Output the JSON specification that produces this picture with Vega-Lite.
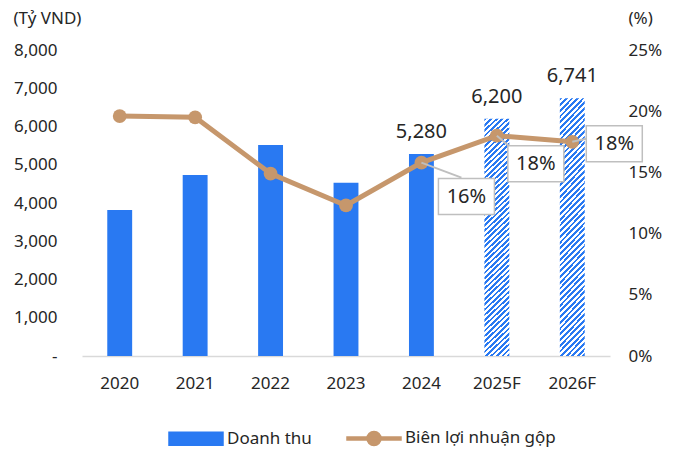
{
  "$schema": "https://vega.github.io/schema/vega-lite/v6.json",
  "width": 528,
  "height": 306,
  "autosize": {"type": "none"},
  "padding": {"left": 82, "top": 50, "right": 68, "bottom": 94},
  "background": "white",
  "data": {
    "values": [
      {"year": "2020", "revenue": 3820, "margin": 0.196, "forecast": false},
      {"year": "2021", "revenue": 4730, "margin": 0.195, "forecast": false},
      {"year": "2022", "revenue": 5515, "margin": 0.149, "forecast": false},
      {"year": "2023", "revenue": 4530, "margin": 0.123, "forecast": false},
      {"year": "2024", "revenue": 5280, "margin": 0.158, "forecast": false},
      {"year": "2025F", "revenue": 6200, "margin": 0.180, "forecast": true},
      {"year": "2026F", "revenue": 6741, "margin": 0.175, "forecast": true}
    ]
  },
  "config": {
    "view": {"stroke": null},
    "font": "Noto Sans",
    "axis": {
      "grid": false,
      "ticks": false,
      "labelFont": "Noto Sans",
      "labelFontSize": 17,
      "labelColor": "#262626",
      "titleFont": "Noto Sans",
      "titleFontSize": 17,
      "titleFontWeight": "normal",
      "titleColor": "#262626"
    }
  },
  "encoding": {
    "x": {
      "field": "year",
      "type": "ordinal",
      "sort": null,
      "scale": {"paddingInner": 0.67, "paddingOuter": 0.335},
      "axis": {"title": null, "labelAngle": 0, "domainColor": "#D9D9D9", "domainWidth": 1.5, "labelPadding": 19}
    }
  },
  "layer": [
    {
      "encoding": {
        "y": {
          "field": "revenue",
          "type": "quantitative",
          "scale": {"domain": [0, 8000], "nice": false},
          "axis": {
            "orient": "left",
            "domain": false,
            "values": [0, 1000, 2000, 3000, 4000, 5000, 6000, 7000, 8000],
            "format": ",.0f",
            "labelExpr": "datum.value === 0 ? '-\u00a0\u00a0' : datum.label",
            "labelPadding": 25,
            "title": "(Tỷ VND)",
            "titleAngle": 0,
            "titleAlign": "left",
            "titleBaseline": "alphabetic",
            "titleX": -69,
            "titleY": -27
          }
        }
      },
      "layer": [
        {
          "transform": [{"filter": "!datum.forecast"}],
          "mark": {"type": "bar"},
          "encoding": {
            "color": {
              "datum": "Doanh thu",
              "scale": {"domain": ["Doanh thu", "Biên lợi nhuận gộp"], "range": ["#2979F2", "#C6976C"]},
              "legend": {
                "title": null,
                "orient": "none",
                "legendX": 86,
                "legendY": 360,
                "direction": "horizontal",
                "labelFont": "Noto Sans",
                "labelFontSize": 17,
                "labelColor": "#262626",
                "symbolSize": 2916,
                "labelOffset": 3,
                "columnPadding": 32,
                "encode": {
                  "symbols": {
                    "update": {
                      "shape": {"signal": "datum.value === 'Doanh thu' ? 'M-1,-0.24H1V0.24H-1Z' : 'M-1,-0.056H1V0.056H-1Z M0.26,0A0.26,0.26 0 1 1 -0.26,0A0.26,0.26 0 1 1 0.26,0Z'"},
                      "fill": {"signal": "datum.value === 'Doanh thu' ? '#2979F2' : '#C6976C'"},
                      "stroke": {"value": "transparent"},
                      "opacity": {"value": 1}
                    }
                  }
                }
              }
            }
          }
        },
        {
          "transform": [{"filter": "datum.forecast"}],
          "mark": {
            "type": "bar",
            "fill": {
              "gradient": "linear", "x1": 0, "y1": 0, "x2": 0.11, "y2": 1.1,
              "stops": [
                {"offset":0,"color":"#2979F2"},{"offset":0.01,"color":"#2979F2"},{"offset":0.01,"color":"#fff"},{"offset":0.02,"color":"#fff"},
                {"offset":0.02,"color":"#2979F2"},{"offset":0.03,"color":"#2979F2"},{"offset":0.03,"color":"#fff"},{"offset":0.04,"color":"#fff"},
                {"offset":0.04,"color":"#2979F2"},{"offset":0.05,"color":"#2979F2"},{"offset":0.05,"color":"#fff"},{"offset":0.06,"color":"#fff"},
                {"offset":0.06,"color":"#2979F2"},{"offset":0.07,"color":"#2979F2"},{"offset":0.07,"color":"#fff"},{"offset":0.08,"color":"#fff"},
                {"offset":0.08,"color":"#2979F2"},{"offset":0.09,"color":"#2979F2"},{"offset":0.09,"color":"#fff"},{"offset":0.10,"color":"#fff"},
                {"offset":0.10,"color":"#2979F2"},{"offset":0.11,"color":"#2979F2"},{"offset":0.11,"color":"#fff"},{"offset":0.12,"color":"#fff"},
                {"offset":0.12,"color":"#2979F2"},{"offset":0.13,"color":"#2979F2"},{"offset":0.13,"color":"#fff"},{"offset":0.14,"color":"#fff"},
                {"offset":0.14,"color":"#2979F2"},{"offset":0.15,"color":"#2979F2"},{"offset":0.15,"color":"#fff"},{"offset":0.16,"color":"#fff"},
                {"offset":0.16,"color":"#2979F2"},{"offset":0.17,"color":"#2979F2"},{"offset":0.17,"color":"#fff"},{"offset":0.18,"color":"#fff"},
                {"offset":0.18,"color":"#2979F2"},{"offset":0.19,"color":"#2979F2"},{"offset":0.19,"color":"#fff"},{"offset":0.20,"color":"#fff"},
                {"offset":0.20,"color":"#2979F2"},{"offset":0.21,"color":"#2979F2"},{"offset":0.21,"color":"#fff"},{"offset":0.22,"color":"#fff"},
                {"offset":0.22,"color":"#2979F2"},{"offset":0.23,"color":"#2979F2"},{"offset":0.23,"color":"#fff"},{"offset":0.24,"color":"#fff"},
                {"offset":0.24,"color":"#2979F2"},{"offset":0.25,"color":"#2979F2"},{"offset":0.25,"color":"#fff"},{"offset":0.26,"color":"#fff"},
                {"offset":0.26,"color":"#2979F2"},{"offset":0.27,"color":"#2979F2"},{"offset":0.27,"color":"#fff"},{"offset":0.28,"color":"#fff"},
                {"offset":0.28,"color":"#2979F2"},{"offset":0.29,"color":"#2979F2"},{"offset":0.29,"color":"#fff"},{"offset":0.30,"color":"#fff"},
                {"offset":0.30,"color":"#2979F2"},{"offset":0.31,"color":"#2979F2"},{"offset":0.31,"color":"#fff"},{"offset":0.32,"color":"#fff"},
                {"offset":0.32,"color":"#2979F2"},{"offset":0.33,"color":"#2979F2"},{"offset":0.33,"color":"#fff"},{"offset":0.34,"color":"#fff"},
                {"offset":0.34,"color":"#2979F2"},{"offset":0.35,"color":"#2979F2"},{"offset":0.35,"color":"#fff"},{"offset":0.36,"color":"#fff"},
                {"offset":0.36,"color":"#2979F2"},{"offset":0.37,"color":"#2979F2"},{"offset":0.37,"color":"#fff"},{"offset":0.38,"color":"#fff"},
                {"offset":0.38,"color":"#2979F2"},{"offset":0.39,"color":"#2979F2"},{"offset":0.39,"color":"#fff"},{"offset":0.40,"color":"#fff"},
                {"offset":0.40,"color":"#2979F2"},{"offset":0.41,"color":"#2979F2"},{"offset":0.41,"color":"#fff"},{"offset":0.42,"color":"#fff"},
                {"offset":0.42,"color":"#2979F2"},{"offset":0.43,"color":"#2979F2"},{"offset":0.43,"color":"#fff"},{"offset":0.44,"color":"#fff"},
                {"offset":0.44,"color":"#2979F2"},{"offset":0.45,"color":"#2979F2"},{"offset":0.45,"color":"#fff"},{"offset":0.46,"color":"#fff"},
                {"offset":0.46,"color":"#2979F2"},{"offset":0.47,"color":"#2979F2"},{"offset":0.47,"color":"#fff"},{"offset":0.48,"color":"#fff"},
                {"offset":0.48,"color":"#2979F2"},{"offset":0.49,"color":"#2979F2"},{"offset":0.49,"color":"#fff"},{"offset":0.50,"color":"#fff"},
                {"offset":0.50,"color":"#2979F2"},{"offset":0.51,"color":"#2979F2"},{"offset":0.51,"color":"#fff"},{"offset":0.52,"color":"#fff"},
                {"offset":0.52,"color":"#2979F2"},{"offset":0.53,"color":"#2979F2"},{"offset":0.53,"color":"#fff"},{"offset":0.54,"color":"#fff"},
                {"offset":0.54,"color":"#2979F2"},{"offset":0.55,"color":"#2979F2"},{"offset":0.55,"color":"#fff"},{"offset":0.56,"color":"#fff"},
                {"offset":0.56,"color":"#2979F2"},{"offset":0.57,"color":"#2979F2"},{"offset":0.57,"color":"#fff"},{"offset":0.58,"color":"#fff"},
                {"offset":0.58,"color":"#2979F2"},{"offset":0.59,"color":"#2979F2"},{"offset":0.59,"color":"#fff"},{"offset":0.60,"color":"#fff"},
                {"offset":0.60,"color":"#2979F2"},{"offset":0.61,"color":"#2979F2"},{"offset":0.61,"color":"#fff"},{"offset":0.62,"color":"#fff"},
                {"offset":0.62,"color":"#2979F2"},{"offset":0.63,"color":"#2979F2"},{"offset":0.63,"color":"#fff"},{"offset":0.64,"color":"#fff"},
                {"offset":0.64,"color":"#2979F2"},{"offset":0.65,"color":"#2979F2"},{"offset":0.65,"color":"#fff"},{"offset":0.66,"color":"#fff"},
                {"offset":0.66,"color":"#2979F2"},{"offset":0.67,"color":"#2979F2"},{"offset":0.67,"color":"#fff"},{"offset":0.68,"color":"#fff"},
                {"offset":0.68,"color":"#2979F2"},{"offset":0.69,"color":"#2979F2"},{"offset":0.69,"color":"#fff"},{"offset":0.70,"color":"#fff"},
                {"offset":0.70,"color":"#2979F2"},{"offset":0.71,"color":"#2979F2"},{"offset":0.71,"color":"#fff"},{"offset":0.72,"color":"#fff"},
                {"offset":0.72,"color":"#2979F2"},{"offset":0.73,"color":"#2979F2"},{"offset":0.73,"color":"#fff"},{"offset":0.74,"color":"#fff"},
                {"offset":0.74,"color":"#2979F2"},{"offset":0.75,"color":"#2979F2"},{"offset":0.75,"color":"#fff"},{"offset":0.76,"color":"#fff"},
                {"offset":0.76,"color":"#2979F2"},{"offset":0.77,"color":"#2979F2"},{"offset":0.77,"color":"#fff"},{"offset":0.78,"color":"#fff"},
                {"offset":0.78,"color":"#2979F2"},{"offset":0.79,"color":"#2979F2"},{"offset":0.79,"color":"#fff"},{"offset":0.80,"color":"#fff"},
                {"offset":0.80,"color":"#2979F2"},{"offset":0.81,"color":"#2979F2"},{"offset":0.81,"color":"#fff"},{"offset":0.82,"color":"#fff"},
                {"offset":0.82,"color":"#2979F2"},{"offset":0.83,"color":"#2979F2"},{"offset":0.83,"color":"#fff"},{"offset":0.84,"color":"#fff"},
                {"offset":0.84,"color":"#2979F2"},{"offset":0.85,"color":"#2979F2"},{"offset":0.85,"color":"#fff"},{"offset":0.86,"color":"#fff"},
                {"offset":0.86,"color":"#2979F2"},{"offset":0.87,"color":"#2979F2"},{"offset":0.87,"color":"#fff"},{"offset":0.88,"color":"#fff"},
                {"offset":0.88,"color":"#2979F2"},{"offset":0.89,"color":"#2979F2"},{"offset":0.89,"color":"#fff"},{"offset":0.90,"color":"#fff"},
                {"offset":0.90,"color":"#2979F2"},{"offset":0.91,"color":"#2979F2"},{"offset":0.91,"color":"#fff"},{"offset":0.92,"color":"#fff"},
                {"offset":0.92,"color":"#2979F2"},{"offset":0.93,"color":"#2979F2"},{"offset":0.93,"color":"#fff"},{"offset":0.94,"color":"#fff"},
                {"offset":0.94,"color":"#2979F2"},{"offset":0.95,"color":"#2979F2"},{"offset":0.95,"color":"#fff"},{"offset":0.96,"color":"#fff"},
                {"offset":0.96,"color":"#2979F2"},{"offset":0.97,"color":"#2979F2"},{"offset":0.97,"color":"#fff"},{"offset":0.98,"color":"#fff"},
                {"offset":0.98,"color":"#2979F2"},{"offset":0.99,"color":"#2979F2"},{"offset":0.99,"color":"#fff"},{"offset":1,"color":"#fff"}
              ]
            }
          }
        },
        {
          "transform": [{"filter": "datum.year >= '2024'"}],
          "mark": {"type": "text", "dy": -16, "baseline": "alphabetic", "fontSize": 20, "color": "#262626", "font": "Noto Sans"},
          "encoding": {"text": {"field": "revenue", "type": "quantitative", "format": ",.0f"}}
        }
      ]
    },
    {
      "encoding": {
        "y": {
          "field": "margin",
          "type": "quantitative",
          "scale": {"domain": [0, 0.25], "nice": false},
          "axis": {
            "orient": "right",
            "domain": false,
            "values": [0, 0.05, 0.1, 0.15, 0.2, 0.25],
            "format": ".0%",
            "labelPadding": 18,
            "title": "(%)",
            "titleAngle": 0,
            "titleAlign": "left",
            "titleBaseline": "alphabetic",
            "titleX": 18,
            "titleY": -27
          }
        }
      },
      "layer": [
        {
          "mark": {"type": "line", "strokeWidth": 5, "point": {"filled": true, "size": 190, "opacity": 1}},
          "encoding": {"color": {"datum": "Biên lợi nhuận gộp"}}
        },
        {
          "transform": [{"filter": "datum.year === '2024'"}],
          "mark": {"type": "rule", "color": "#BFBFBF", "strokeWidth": 2, "x2Offset": 40, "y2Offset": 15},
          "encoding": {"x": {"field": "year", "type": "ordinal", "bandPosition": 0.5}, "x2": {"field": "year", "bandPosition": 0.5}, "y2": {"field": "margin"}}
        },
        {
          "transform": [{"filter": "datum.year === '2025F'"}],
          "mark": {"type": "rule", "color": "#BFBFBF", "strokeWidth": 2, "x2Offset": 13, "y2Offset": 11},
          "encoding": {"x": {"field": "year", "type": "ordinal", "bandPosition": 0.5}, "x2": {"field": "year", "bandPosition": 0.5}, "y2": {"field": "margin"}}
        },
        {
          "transform": [{"filter": "datum.year === '2026F'"}],
          "mark": {"type": "rule", "color": "#BFBFBF", "strokeWidth": 2, "x2Offset": 14, "y2Offset": -3},
          "encoding": {"x": {"field": "year", "type": "ordinal", "bandPosition": 0.5}, "x2": {"field": "year", "bandPosition": 0.5}, "y2": {"field": "margin"}}
        },
        {
          "transform": [{"filter": "datum.year === '2024'"}],
          "mark": {"type": "point", "shape": "M-1,-0.643H1V0.643H-1Z", "size": 3136, "filled": true, "fill": "white", "stroke": "#BFBFBF", "strokeWidth": 1.5, "opacity": 1, "xOffset": 45, "yOffset": 34}
        },
        {
          "transform": [{"filter": "datum.year === '2025F'"}],
          "mark": {"type": "point", "shape": "M-1,-0.643H1V0.643H-1Z", "size": 3136, "filled": true, "fill": "white", "stroke": "#BFBFBF", "strokeWidth": 1.5, "opacity": 1, "xOffset": 39, "yOffset": 28}
        },
        {
          "transform": [{"filter": "datum.year === '2026F'"}],
          "mark": {"type": "point", "shape": "M-1,-0.643H1V0.643H-1Z", "size": 3136, "filled": true, "fill": "white", "stroke": "#BFBFBF", "strokeWidth": 1.5, "opacity": 1, "xOffset": 42, "yOffset": 2}
        },
        {
          "transform": [{"filter": "datum.year === '2024'"}],
          "mark": {"type": "text", "dx": 45, "dy": 34, "baseline": "middle", "fontSize": 20, "color": "#262626", "font": "Noto Sans"},
          "encoding": {"text": {"field": "margin", "type": "quantitative", "format": ".0%"}}
        },
        {
          "transform": [{"filter": "datum.year === '2025F'"}],
          "mark": {"type": "text", "dx": 39, "dy": 28, "baseline": "middle", "fontSize": 20, "color": "#262626", "font": "Noto Sans"},
          "encoding": {"text": {"field": "margin", "type": "quantitative", "format": ".0%"}}
        },
        {
          "transform": [{"filter": "datum.year === '2026F'"}],
          "mark": {"type": "text", "dx": 42, "dy": 2, "baseline": "middle", "fontSize": 20, "color": "#262626", "font": "Noto Sans"},
          "encoding": {"text": {"field": "margin", "type": "quantitative", "format": ".0%"}}
        }
      ]
    }
  ],
  "resolve": {"scale": {"y": "independent"}}
}
